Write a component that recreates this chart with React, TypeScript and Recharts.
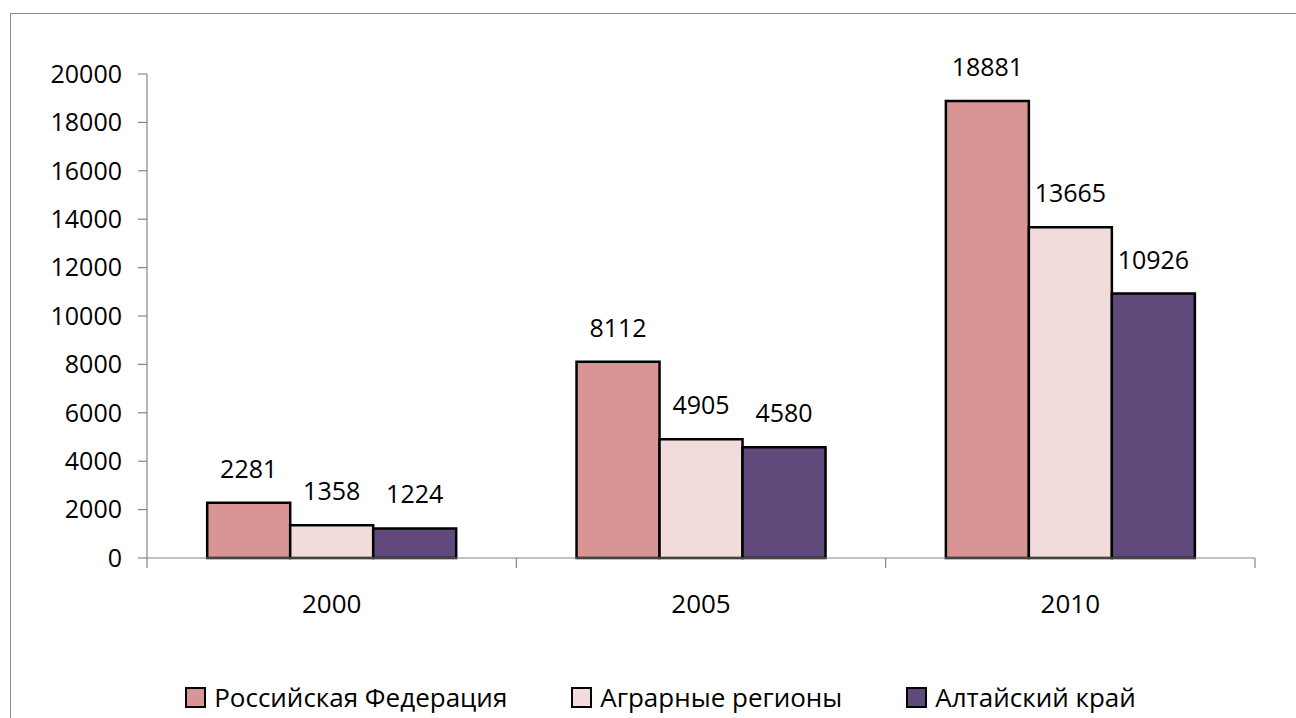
import React from 'react';
import { BarChart, Bar, XAxis, YAxis, Legend, LabelList } from 'recharts';

const categories = ['2000', '2005', '2010'];
const russia = [2281, 8112, 18881];
const agrarian = [1358, 4905, 13665];
const altai = [1224, 4580, 10926];
const yTicks = [0, 2000, 4000, 6000, 8000, 10000, 12000, 14000, 16000, 18000, 20000];
const seriesNames = ['Российская Федерация', 'Аграрные регионы', 'Алтайский край'];
const seriesKeys = ['rf', 'agr', 'alt'];
const seriesColors = ['#D99594', '#F2DCDB', '#604A7B'];

const data = categories.map((year, i) => ({
  year,
  rf: russia[i],
  agr: agrarian[i],
  alt: altai[i],
}));

const FONT = '"Open Sans", sans-serif';
const AXIS = '#868686';
const X_TICK_MARGIN = 37;
const X_TICK_LEN = 10;

const CategoryTick = (props: any) => {
  const { x, y, payload, index, visibleTicksCount } = props;
  const half = payload && payload.offset ? payload.offset : 0;
  const axisY = y - X_TICK_MARGIN;
  const isLast = index === visibleTicksCount - 1;
  return (
    <g>
      <line x1={x - half} x2={x - half} y1={axisY} y2={axisY + X_TICK_LEN} stroke={AXIS} strokeWidth={1.2} />
      {isLast && (
        <line x1={x + half} x2={x + half} y1={axisY} y2={axisY + X_TICK_LEN} stroke={AXIS} strokeWidth={1.2} />
      )}
      <text x={x} y={y} dy="0.71em" textAnchor="middle" fill="#000" fontSize={26} fontFamily={FONT}>
        {payload.value}
      </text>
    </g>
  );
};

const renderLegend = () => (
  <div
    style={{
      display: 'flex',
      justifyContent: 'center',
      alignItems: 'center',
      height: 30,
      paddingLeft: 66,
      fontFamily: FONT,
      fontSize: 26,
      color: '#000',
    }}
  >
    {seriesNames.map((name, i) => (
      <div key={name} style={{ display: 'flex', alignItems: 'center', marginRight: i < seriesNames.length - 1 ? 64 : 0 }}>
        <span
          style={{
            display: 'inline-block',
            boxSizing: 'border-box',
            width: 21,
            height: 21,
            background: seriesColors[i],
            border: '2.5px solid #000',
            marginRight: 8,
          }}
        />
        <span style={{ lineHeight: '30px', whiteSpace: 'nowrap' }}>{name}</span>
      </div>
    ))}
  </div>
);

export default function App() {
  return (
    <div style={{ position: 'absolute', left: 0, top: 0, width: 1296, height: 718, overflow: 'hidden', background: '#fff' }}>
      <div
        style={{
          position: 'absolute',
          left: 10,
          top: 13,
          width: 1400,
          height: 800,
          border: '1.5px solid #8a8a8a',
        }}
      />
      <div style={{ position: 'absolute', left: 0, top: 0 }}>
        <BarChart
          width={1296}
          height={718}
          data={data}
          margin={{ top: 74, right: 41, left: 0, bottom: 6 }}
          barCategoryGap="16.3%"
          barGap={0}
          style={{ fontFamily: FONT }}
        >
          <XAxis
            dataKey="year"
            height={124}
            tickSize={0}
            tickMargin={X_TICK_MARGIN}
            axisLine={{ stroke: AXIS, strokeWidth: 1.2 }}
            tickLine={false}
            interval={0}
            tick={<CategoryTick />}
          />
          <YAxis
            width={147}
            domain={[0, 20000]}
            ticks={yTicks}
            interval={0}
            tickSize={9}
            tickMargin={16}
            axisLine={{ stroke: AXIS, strokeWidth: 1.2 }}
            tickLine={{ stroke: AXIS, strokeWidth: 1.2 }}
            tick={{ fill: '#000', fontSize: 25, fontFamily: FONT }}
          />
          <Legend verticalAlign="bottom" height={30} content={renderLegend} wrapperStyle={{ bottom: 6 }} />
          {seriesKeys.map((key, i) => (
            <Bar
              key={key}
              dataKey={key}
              name={seriesNames[i]}
              fill={seriesColors[i]}
              stroke="#000"
              strokeWidth={2.5}
              isAnimationActive={false}
            >
              <LabelList
                dataKey={key}
                position="top"
                offset={25}
                fill="#000"
                fontSize={25}
                fontFamily={FONT}
              />
            </Bar>
          ))}
        </BarChart>
      </div>
    </div>
  );
}
